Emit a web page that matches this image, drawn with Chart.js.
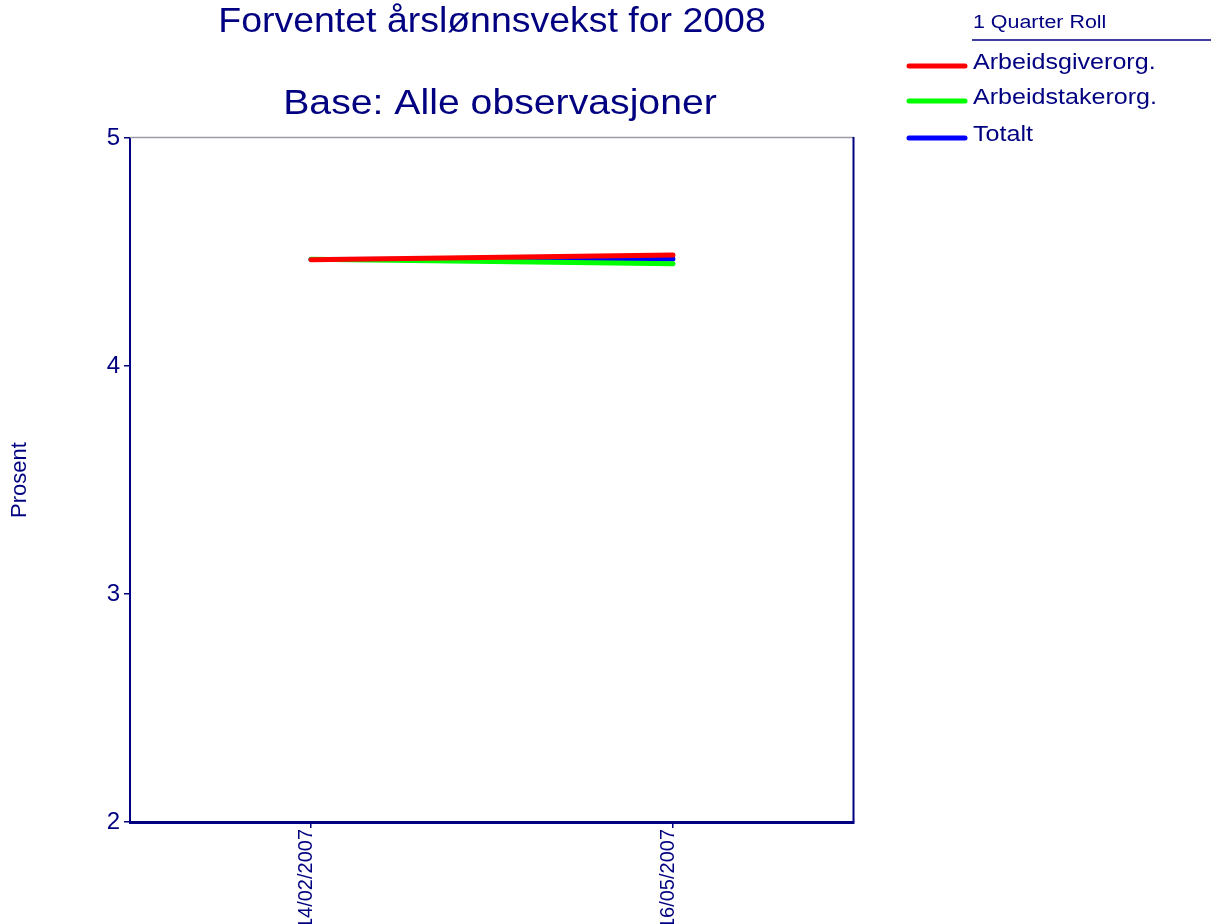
<!DOCTYPE html>
<html>
<head>
<meta charset="utf-8">
<script src="https://cdn.jsdelivr.net/npm/chart.js@4.4.1/dist/chart.umd.min.js"></script>
<style>
  html, body { margin: 0; padding: 0; background: #ffffff; }
  #wrap { width: 1211px; height: 924px; position: relative; }
</style>
</head>
<body>
<div id="wrap"><canvas id="c" width="1211" height="924"></canvas></div>
<script>
// ---- data ----
const categories = ['14/02/2007', '16/05/2007'];
const arbeidsgiver = [4.466, 4.487];
const arbeidstaker = [4.468, 4.448];
const totalt = [4.467, 4.469];
const seriesNames = ['Arbeidsgiverorg.', 'Arbeidstakerorg.', 'Totalt'];
const seriesColors = ['#ff0000', '#00ff00', '#0000ff'];
const titleLines = ['Forventet årslønnsvekst for 2008', 'Base: Alle observasjoner'];
const legendTitle = '1 Quarter Roll';
const yAxisTitle = 'Prosent';
const yMin = 2, yMax = 5, yStep = 1;

const NAVY = '#000080';
const FONT = "'Liberation Sans', Arial, Helvetica, sans-serif";

const decorPlugin = {
  id: 'decor',
  afterDraw(chart) {
    const ctx = chart.ctx;
    const a = chart.chartArea;
    ctx.save();
    // frame top + right
    ctx.strokeStyle = '#9a9aa8';
    ctx.lineWidth = 1.5;
    ctx.beginPath();
    ctx.moveTo(a.left, a.top - 0.5);
    ctx.lineTo(a.right, a.top - 0.5);
    ctx.stroke();
    ctx.strokeStyle = NAVY;
    ctx.lineWidth = 2;
    ctx.beginPath();
    ctx.moveTo(a.right - 0.5, a.top - 1);
    ctx.lineTo(a.right - 0.5, a.bottom);
    ctx.stroke();

    // title
    ctx.fillStyle = NAVY;
    ctx.textAlign = 'center';
    ctx.textBaseline = 'alphabetic';
    const cx = (a.left + a.right) / 2;
    const titleSpecs = [
      { text: titleLines[0], y: 32, size: 35, sx: 1.07, cx: cx },
      { text: titleLines[1], y: 114, size: 35, sx: 1.12, cx: cx + 8 }
    ];
    titleSpecs.forEach(s => {
      ctx.save();
      ctx.font = s.size + 'px ' + FONT;
      ctx.translate(s.cx, s.y);
      ctx.scale(s.sx, 1);
      ctx.fillText(s.text, 0, 0);
      ctx.restore();
    });

    // legend
    const lx = 973;
    ctx.textAlign = 'left';
    ctx.save();
    ctx.font = '18px ' + FONT;
    ctx.translate(lx, 28);
    ctx.scale(1.19, 1);
    ctx.fillText(legendTitle, 0, 0);
    ctx.restore();
    ctx.strokeStyle = NAVY;
    ctx.lineWidth = 1.5;
    ctx.beginPath();
    ctx.moveTo(lx - 1, 40);
    ctx.lineTo(1211, 40);
    ctx.stroke();

    const rows = [66, 101, 138];
    chart.data.datasets.forEach((ds, i) => {
      const y = rows[i];
      ctx.strokeStyle = ds.borderColor;
      ctx.lineWidth = 5;
      ctx.lineCap = 'round';
      ctx.beginPath();
      ctx.moveTo(909, y);
      ctx.lineTo(965, y);
      ctx.stroke();
      ctx.save();
      ctx.fillStyle = NAVY;
      ctx.font = '22px ' + FONT;
      ctx.translate(lx, y + 3);
      ctx.scale(1.14, 1);
      ctx.fillText(ds.label, 0, 0);
      ctx.restore();
    });
    ctx.restore();
  }
};

const datasets = [arbeidsgiver, arbeidstaker, totalt].map((vals, i) => ({
  label: seriesNames[i],
  data: vals,
  borderColor: seriesColors[i],
  backgroundColor: seriesColors[i],
  borderWidth: 5,
  borderCapStyle: 'round',
  pointRadius: 0,
  fill: false,
  tension: 0
}));

new Chart(document.getElementById('c'), {
  type: 'line',
  data: { labels: categories, datasets: datasets },
  plugins: [decorPlugin],
  options: {
    responsive: false,
    animation: false,
    devicePixelRatio: 1,
    layout: { padding: { top: 138, right: 357, left: 0, bottom: 0 } },
    plugins: {
      legend: { display: false },
      title: { display: false },
      tooltip: { enabled: false }
    },
    scales: {
      x: {
        type: 'category',
        offset: true,
        grid: { offset: false, drawOnChartArea: false, drawTicks: true, tickLength: 6, color: NAVY, lineWidth: 1.5 },
        border: { color: NAVY, width: 3 },
        ticks: {
          color: NAVY,
          font: { family: FONT, size: 20 },
          minRotation: 90,
          maxRotation: 90,
          padding: 1,
          labelOffset: -5,
          autoSkip: false
        },
        afterFit(scale) { scale.height = 102; }
      },
      y: {
        min: yMin,
        max: yMax,
        grid: { drawOnChartArea: false, drawTicks: true, tickLength: 6, color: NAVY, lineWidth: 1.5 },
        border: { color: NAVY, width: 2 },
        ticks: {
          stepSize: yStep,
          color: NAVY,
          font: { family: FONT, size: 24 },
          padding: 4
        },
        title: {
          display: true,
          text: yAxisTitle,
          color: NAVY,
          font: { family: FONT, size: 22 },
          padding: { top: 7, bottom: 0 }
        },
        afterFit(scale) { scale.width = 130; }
      }
    }
  }
});
</script>
</body>
</html>
